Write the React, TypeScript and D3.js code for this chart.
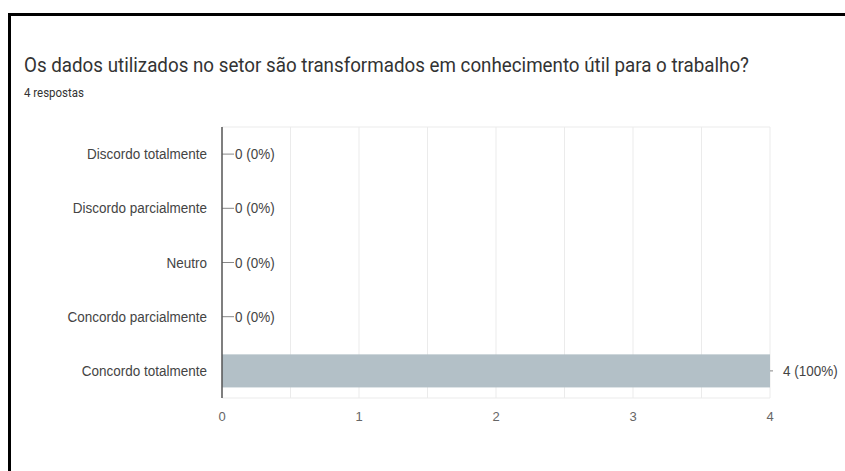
import React from "react";
import * as d3 from "d3";

const title = "Os dados utilizados no setor são transformados em conhecimento útil para o trabalho?";
const subtitle = "4 respostas";
const categories = [
  "Discordo totalmente",
  "Discordo parcialmente",
  "Neutro",
  "Concordo parcialmente",
  "Concordo totalmente",
];
const values = [0, 0, 0, 0, 4];
const percents = ["0%", "0%", "0%", "0%", "100%"];
const xTicks = [0, 1, 2, 3, 4];
const gridTicks = [0.5, 1, 1.5, 2, 2.5, 3, 3.5, 4];

export default function App() {
  const W = 845;
  const H = 471;
  const left = 222;
  const right = 770;
  const top = 127;
  const bottom = 398;
  const x = d3.scaleLinear().domain([0, 4]).range([left, right]);
  const y = d3.scaleBand<string>().domain(categories).range([top, bottom]).paddingInner(0.39).paddingOuter(0.195);
  const band = d3.scaleBand<string>().domain(categories).range([top, bottom]);
  const tFont = "Roboto, Arial, sans-serif";
  const font = "Arial, 'Liberation Sans', sans-serif";
  const sx = 0.93;
  return (
    <svg width={W} height={H} style={{ position: "absolute", left: 0, top: 0, background: "#fff" }}>
      <rect x={0} y={0} width={W} height={H} fill="#fff" />
      <line x1={9.5} y1={14.5} x2={W} y2={14.5} stroke="#000" strokeWidth={3} />
      <line x1={9.5} y1={13} x2={9.5} y2={H} stroke="#000" strokeWidth={3} />
      <text x={24} y={72} fontFamily={tFont} fontSize={20} fill="#333" textLength={725} lengthAdjust="spacingAndGlyphs">{title}</text>
      <text x={24} y={97} fontFamily={tFont} fontSize={13} fill="#333" textLength={60} lengthAdjust="spacingAndGlyphs">{subtitle}</text>
      {gridTicks.map((t) => (
        <line key={t} x1={x(t)} x2={x(t)} y1={top} y2={bottom} stroke="#ebebeb" strokeWidth={1} />
      ))}
      <line x1={left} x2={right} y1={top} y2={top} stroke="#ebebeb" />
      <line x1={left} x2={right} y1={bottom} y2={bottom} stroke="#ebebeb" />
      {categories.map((c, i) => {
        const cy = (band(c) ?? 0) + band.bandwidth() / 2;
        const v = values[i];
        return (
          <g key={c}>
            <g transform={`translate(207,${cy}) scale(${sx},1)`}>
              <text x={0} y={0} dy="0.35em" textAnchor="end" fontFamily={font} fontSize={14.5} fill="#444">{c}</text>
            </g>
            {v > 0 && (
              <rect x={x(0)} y={y(c)} width={x(v) - x(0)} height={y.bandwidth()} fill="#b3c0c7" />
            )}
            <line x1={x(v)} x2={x(v) + (v > 0 ? 3 : 12)} y1={cy} y2={cy} stroke="#888" strokeWidth={1} />
            <g transform={`translate(${x(v) + 13},${cy}) scale(${sx},1)`}>
              <text x={0} y={0} dy="0.35em" fontFamily={font} fontSize={14.5} fill="#444">
                {`${v} (${percents[i]})`}
              </text>
            </g>
          </g>
        );
      })}
      <line x1={left} x2={left} y1={top} y2={bottom} stroke="#555" strokeWidth={1.5} />
      {xTicks.map((t) => (
        <text key={t} x={x(t)} y={421} textAnchor="middle" fontFamily={font} fontSize={13} fill="#666">{t}</text>
      ))}
    </svg>
  );
}
